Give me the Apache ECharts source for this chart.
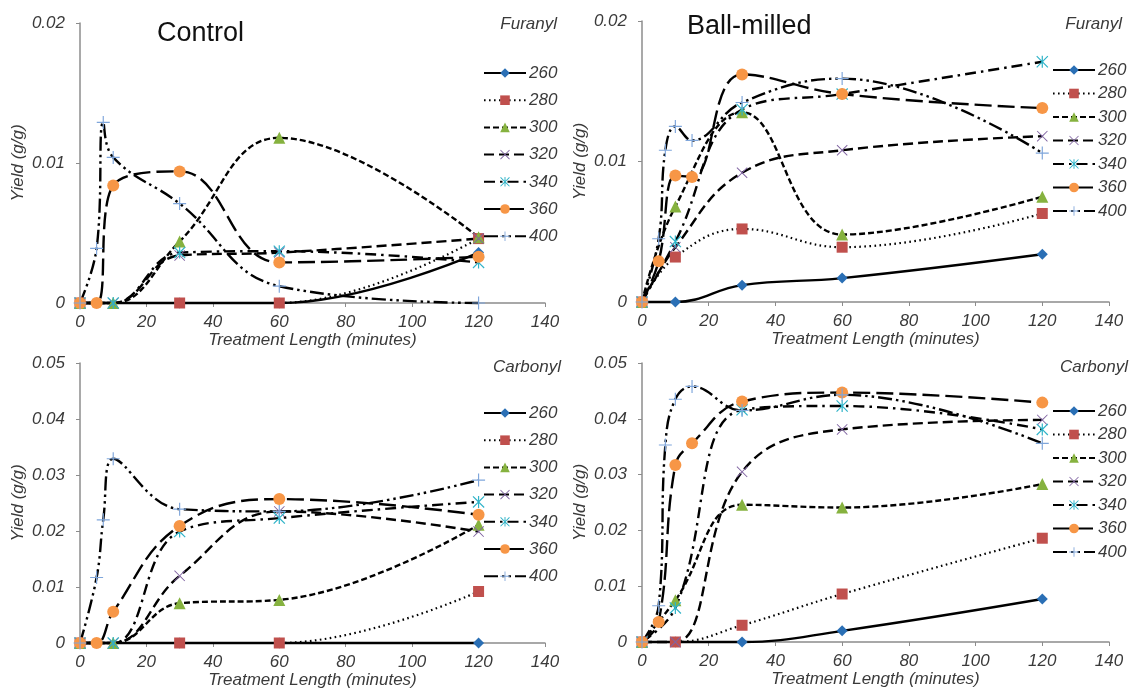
<!DOCTYPE html>
<html>
<head>
<meta charset="utf-8">
<script src="https://cdn.jsdelivr.net/npm/echarts@6/dist/echarts.min.js"></script>
<style>
html,body{margin:0;padding:0;background:#fff;}
#chart{width:1131px;height:691px;}
</style>
</head>
<body>
<div id="chart"></div>
<script>
// ---- DATA ----
const seriesNames = ['260','280','300','320','340','360','400'];
const panelTitles = ['Control', 'Ball-milled'];
const panelSubtitles = ['Furanyl', 'Furanyl', 'Carbonyl', 'Carbonyl'];
const xAxisTitle = 'Treatment Length (minutes)';
const yAxisTitle = 'Yield (g/g)';
const xTickRange = [0, 140, 20];
const yTickRangeTop = [0, 0.02, 0.01];
const yTickRangeBottom = [0, 0.05, 0.01];

// Control - Furanyl  [minutes, yield]
const cf260 = [[0,0],[30,0],[60,0],[120,0.0036]];
const cf280 = [[0,0],[30,0],[60,0],[120,0.0046]];
const cf300 = [[0,0],[10,0],[30,0.0044],[60,0.0118],[120,0.0047]];
const cf320 = [[0,0],[10,0],[30,0.0034],[60,0.0036],[120,0.0046]];
const cf340 = [[0,0],[10,0],[30,0.0036],[60,0.0037],[120,0.0029]];
const cf360 = [[0,0],[5,0],[10,0.0084],[30,0.0094],[60,0.0029],[120,0.0033]];
const cf400 = [[0,0],[5,0.0039],[7,0.0129],[10,0.0104],[30,0.0071],[60,0.0012],[120,0]];

// Ball-milled - Furanyl
const bf260 = [[0,0],[10,0],[30,0.0012],[60,0.0017],[120,0.0034]];
const bf280 = [[0,0],[10,0.0032],[30,0.0052],[60,0.0039],[120,0.0063]];
const bf300 = [[0,0],[10,0.0068],[30,0.0135],[60,0.0048],[120,0.0075]];
const bf320 = [[0,0],[10,0.0039],[30,0.0092],[60,0.0108],[120,0.0118]];
const bf340 = [[0,0],[10,0.0043],[30,0.0137],[60,0.0148],[120,0.0171]];
const bf360 = [[0,0],[5,0.0029],[10,0.0090],[15,0.0089],[30,0.0162],[60,0.0148],[120,0.0138]];
const bf400 = [[0,0],[5,0.0045],[7,0.0108],[10,0.0125],[15,0.0115],[30,0.0142],[60,0.0159],[120,0.0106]];

// Control - Carbonyl
const cc260 = [[0,0],[30,0],[60,0],[120,0]];
const cc280 = [[0,0],[30,0],[60,0],[120,0.0092]];
const cc300 = [[0,0],[10,0],[30,0.0071],[60,0.0077],[120,0.0211]];
const cc320 = [[0,0],[10,0],[30,0.0120],[60,0.0235],[120,0.0199]];
const cc340 = [[0,0],[10,0],[30,0.0199],[60,0.0223],[120,0.0252]];
const cc360 = [[0,0],[5,0],[10,0.0056],[30,0.0209],[60,0.0257],[120,0.0229]];
const cc400 = [[0,0],[5,0.0117],[7,0.0220],[10,0.0329],[30,0.0239],[60,0.0235],[120,0.0291]];

// Ball-milled - Carbonyl
const bc260 = [[0,0],[10,0],[30,0],[60,0.0020],[120,0.0077]];
const bc280 = [[0,0],[10,0],[30,0.0030],[60,0.0086],[120,0.0186]];
const bc300 = [[0,0],[10,0.0075],[30,0.0246],[60,0.0241],[120,0.0283]];
const bc320 = [[0,0],[10,0],[30,0.0305],[60,0.0381],[120,0.0398]];
const bc340 = [[0,0],[10,0.0061],[30,0.0416],[60,0.0423],[120,0.0381]];
const bc360 = [[0,0],[5,0.0036],[10,0.0317],[15,0.0356],[30,0.0431],[60,0.0447],[120,0.0429]];
const bc400 = [[0,0],[5,0.0065],[7,0.0353],[10,0.0435],[15,0.0458],[30,0.0415],[60,0.0443],[120,0.0356]];

const panelData = [
  [cf260, cf280, cf300, cf320, cf340, cf360, cf400],
  [bf260, bf280, bf300, bf320, bf340, bf360, bf400],
  [cc260, cc280, cc300, cc320, cc340, cc360, cc400],
  [bc260, bc280, bc300, bc320, bc340, bc360, bc400]
];

// ---- STYLES ----
const FONT = '"Liberation Sans", Arial, sans-serif';
const TXT = '#3a3a3a';
const plusPath = 'path://M4.55,0H5.45V4.55H10V5.45H5.45V10H4.55V5.45H0V4.55H4.55Z';
const xPath = 'path://M0,0.6L0.6,0L5,4.4L9.4,0L10,0.6L5.6,5L10,9.4L9.4,10L5,5.6L0.6,10L0,9.4L4.4,5Z';
const starPath = 'path://M0,0.7L0.7,0L5,4.3L9.3,0L10,0.7L5.7,5L10,9.3L9.3,10L5,5.7L0.7,10L0,9.3L4.3,5Z M4.5,0H5.5V10H4.5Z';
const styles = [
  {symbol:'diamond', size:11, color:'#2A6FB5', dash:'solid', w:2.4},
  {symbol:'rect', size:11, color:'#C0504D', dash:[1.6,3.4], w:2.2},
  {symbol:'triangle', size:12, color:'#86B23F', dash:[6,3], w:2.4},
  {symbol:xPath, size:11, color:'#8064A2', dash:[10,5], w:2.4},
  {symbol:starPath, size:12, color:'#2FB3C8', dash:[11,5,2.5,5], w:2.4},
  {symbol:'circle', size:12, color:'#F79646', dash:[17,6], w:2.4},
  {symbol:plusPath, size:13, color:'#7FA6DB', dash:[14,4,2.5,4,2.5,4], w:2.4}
];

const grids = [
  {left:80, top:23, width:465, height:280},
  {left:642, top:21, width:467, height:281},
  {left:80, top:363, width:465, height:280},
  {left:642, top:363, width:467, height:279}
];

function fmtY(v){ return v === 0 ? '0' : v.toFixed(2); }

const xAxes = grids.map((g,i)=>({
  type:'value', gridIndex:i, min:xTickRange[0], max:xTickRange[1], interval:xTickRange[2],
  name:xAxisTitle, nameLocation:'middle', nameGap:28,
  nameTextStyle:{fontFamily:FONT, fontStyle:'italic', fontSize:17, color:TXT},
  axisLine:{lineStyle:{color:'#8c8c8c', width:1.5}},
  axisTick:{show:true, length:4, lineStyle:{color:'#8c8c8c'}},
  axisLabel:{fontFamily:FONT, fontStyle:'italic', fontSize:17, color:TXT, margin:11},
  splitLine:{show:false}
}));
const yAxes = grids.map((g,i)=>{
  const r = i < 2 ? yTickRangeTop : yTickRangeBottom;
  return {
    type:'value', gridIndex:i, min:r[0], max:r[1], interval:r[2],
    name:yAxisTitle, nameLocation:'middle', nameGap:53, nameRotate:90,
    nameTextStyle:{fontFamily:FONT, fontStyle:'italic', fontSize:17, color:TXT},
    axisLine:{show:true, lineStyle:{color:'#8c8c8c', width:1.5}},
    axisTick:{show:true, length:4, lineStyle:{color:'#8c8c8c'}},
    axisLabel:{fontFamily:FONT, fontStyle:'italic', fontSize:17, color:TXT, margin:15, formatter:fmtY},
    splitLine:{show:false}
  };
});

const series = [];
panelData.forEach((arrs, p)=>{
  arrs.forEach((d, s)=>{
    const st = styles[s];
    series.push({
      type:'line', name:seriesNames[s], xAxisIndex:p, yAxisIndex:p,
      data:d, smooth:0.42, symbol:st.symbol, symbolSize:st.size, showAllSymbol:true,
      itemStyle:{color:st.color, borderWidth:0},
      lineStyle:{color:'#000', width:st.w, type:st.dash},
      emphasis:{disabled:true}, animation:false, clip:false
    });
  });
});

const legendPos = [
  {left:483, top:64, itemGap:9.2},
  {left:1052, top:61, itemGap:5.5},
  {left:483, top:404, itemGap:9.2},
  {left:1052, top:402, itemGap:5.5}
];
const legends = legendPos.map(lp=>({
  orient:'vertical', left:lp.left, top:lp.top, itemGap:lp.itemGap, padding:0,
  itemWidth:42, itemHeight:12, selectedMode:false, data:seriesNames,
  textStyle:{fontFamily:FONT, fontStyle:'italic', fontSize:17, color:TXT, lineHeight:18, padding:[0,0,0,-2]}
}));

const titles = [
  {text:panelTitles[0], left:157, top:20, textStyle:{fontFamily:FONT, fontSize:27, fontWeight:'normal', color:'#111'}},
  {text:panelTitles[1], left:687, top:13, textStyle:{fontFamily:FONT, fontSize:27, fontWeight:'normal', color:'#111'}},
  {text:panelSubtitles[0], right:1131-557, top:16, textStyle:{fontFamily:FONT, fontStyle:'italic', fontSize:17, fontWeight:'normal', color:TXT}},
  {text:panelSubtitles[1], right:1131-1122, top:16, textStyle:{fontFamily:FONT, fontStyle:'italic', fontSize:17, fontWeight:'normal', color:TXT}},
  {text:panelSubtitles[2], right:1131-561, top:359, textStyle:{fontFamily:FONT, fontStyle:'italic', fontSize:17, fontWeight:'normal', color:TXT}},
  {text:panelSubtitles[3], right:1131-1128, top:359, textStyle:{fontFamily:FONT, fontStyle:'italic', fontSize:17, fontWeight:'normal', color:TXT}}
].map(t=>Object.assign({padding:0}, t));

const chart = echarts.init(document.getElementById('chart'), null, {renderer:'canvas'});
chart.setOption({
  backgroundColor:'#ffffff',
  animation:false,
  title:titles,
  legend:legends,
  grid:grids,
  xAxis:xAxes,
  yAxis:yAxes,
  series:series
});
</script>
</body>
</html>
